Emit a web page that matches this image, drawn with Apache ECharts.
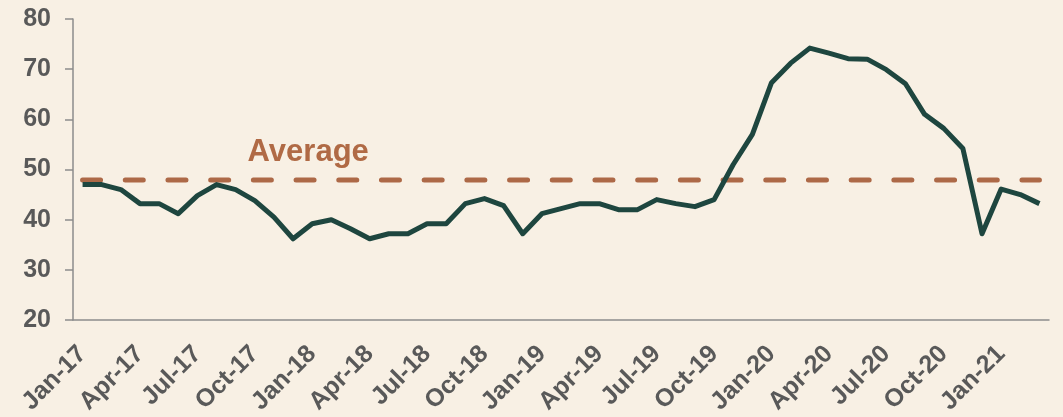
<!DOCTYPE html>
<html lang="en">
<head>
    <meta charset="UTF-8">
    <title>Average chart</title>
    <style>
        html, body { margin: 0; padding: 0; background: #f8f0e4; }
    </style>
</head>
<body>
<div id="main" style="width: 1063px;height:417px;"></div>
<script src="https://cdn.jsdelivr.net/npm/echarts@6/dist/echarts.min.js"></script>
<script>
    // monthly categories, Jan-17 .. Mar-21
    var months = [
        'Jan-17', 'Feb-17', 'Mar-17', 'Apr-17', 'May-17', 'Jun-17', 'Jul-17', 'Aug-17', 'Sep-17', 'Oct-17', 'Nov-17', 'Dec-17',
        'Jan-18', 'Feb-18', 'Mar-18', 'Apr-18', 'May-18', 'Jun-18', 'Jul-18', 'Aug-18', 'Sep-18', 'Oct-18', 'Nov-18', 'Dec-18',
        'Jan-19', 'Feb-19', 'Mar-19', 'Apr-19', 'May-19', 'Jun-19', 'Jul-19', 'Aug-19', 'Sep-19', 'Oct-19', 'Nov-19', 'Dec-19',
        'Jan-20', 'Feb-20', 'Mar-20', 'Apr-20', 'May-20', 'Jun-20', 'Jul-20', 'Aug-20', 'Sep-20', 'Oct-20', 'Nov-20', 'Dec-20',
        'Jan-21', 'Feb-21', 'Mar-21'
    ];
    var values = [
        47, 47, 46, 43.2, 43.2, 41.2, 44.8, 47, 46, 43.8, 40.5, 36.2,
        39.2, 40, 38.2, 36.2, 37.2, 37.2, 39.2, 39.2, 43.2, 44.2, 42.8, 37.2,
        41.2, 42.2, 43.2, 43.2, 42, 42, 44, 43.2, 42.6, 44, 51, 57,
        67.3, 71.2, 74.2, 73.2, 72.1, 72, 69.9, 67.1, 61, 58.2, 54.2, 37.2,
        46.1, 45, 43.2
    ];
    var averageValue = 47.9;
    var averageLabelMonth = 'Jan-18';
    var yTicks = { min: 20, max: 80, interval: 10 };

    var averageData = months.map(function () { return averageValue; });

    var chart = echarts.init(document.getElementById('main'));
    var option = {
        backgroundColor: '#f8f0e4',
        animation: false,
        grid: {
            left: 73,
            right: 14,
            top: 19,
            bottom: 95
        },
        xAxis: {
            type: 'category',
            boundaryGap: true,
            data: months,
            axisLine: { lineStyle: { color: '#8c8c8c', width: 1.5 } },
            axisTick: { interval: 2, length: 8, lineStyle: { color: '#8c8c8c', width: 1.5 } },
            axisLabel: {
                interval: 2,
                rotate: 45,
                margin: 30,
                color: '#595959',
                fontSize: 25,
                fontWeight: 'bold',
                fontFamily: 'Liberation Sans, Arial, sans-serif'
            },
            splitLine: { show: false }
        },
        yAxis: {
            type: 'value',
            min: yTicks.min,
            max: yTicks.max,
            interval: yTicks.interval,
            axisLine: { show: true, lineStyle: { color: '#8c8c8c', width: 1.5 } },
            axisTick: { show: true, length: 8, lineStyle: { color: '#8c8c8c', width: 1.5 } },
            axisLabel: {
                margin: 22,
                color: '#595959',
                fontSize: 25,
                fontWeight: 'bold',
                fontFamily: 'Liberation Sans, Arial, sans-serif'
            },
            splitLine: { show: false }
        },
        series: [
            {
                name: 'Average',
                type: 'line',
                data: averageData,
                symbol: 'none',
                lineStyle: {
                    color: '#ad6947',
                    width: 5,
                    type: [18, 24.7],
                    cap: 'round'
                },
                markPoint: {
                    symbol: 'circle',
                    symbolSize: 0,
                    data: [{ coord: [averageLabelMonth, averageValue] }],
                    label: {
                        show: true,
                        position: 'top',
                        distance: 12,
                        offset: [-4, 0],
                        formatter: 'Average',
                        color: '#b06a45',
                        fontSize: 31,
                        fontWeight: 'bold',
                        fontFamily: 'Liberation Sans, Arial, sans-serif'
                    }
                },
                z: 2
            },
            {
                name: 'Value',
                type: 'line',
                data: values,
                symbol: 'none',
                lineStyle: {
                    color: '#1e463f',
                    width: 5,
                    join: 'round'
                },
                z: 3
            }
        ]
    };
    chart.setOption(option);
</script>
</body>
</html>
